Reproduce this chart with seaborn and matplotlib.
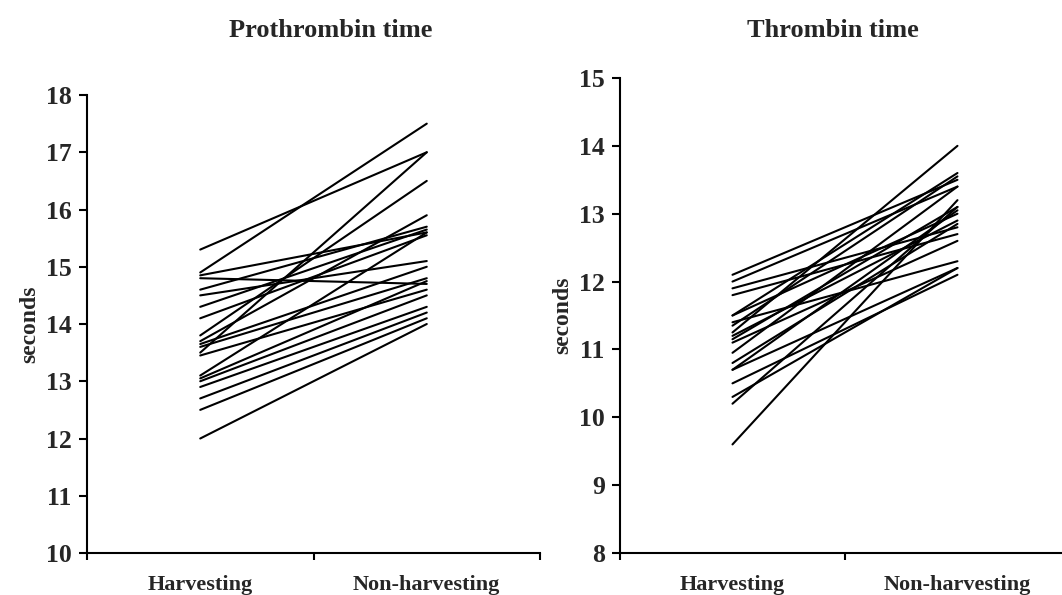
import matplotlib
matplotlib.use("Agg")
import matplotlib.pyplot as plt
import seaborn as sns
import pandas as pd

# Prothrombin time (seconds), paired values per subject
pt_harvest = [15.3, 14.9, 14.85, 14.8, 14.6, 14.5, 14.3, 14.1, 13.8, 13.7, 13.65,
              13.6, 13.5, 13.45, 13.1, 13.05, 13.0, 12.9, 12.7, 12.5, 12.0]
pt_nonharvest = [17.0, 17.5, 15.6, 14.7, 15.7, 15.1, 15.65, 15.55, 16.5, 15.9, 15.0,
                 14.8, 17.0, 14.6, 15.6, 14.75, 14.5, 14.3, 14.2, 14.1, 14.0]

# Thrombin time (seconds), paired values per subject
tt_harvest = [12.1, 12.0, 11.9, 11.8, 11.5, 11.5, 11.4, 11.35, 11.25, 11.2, 11.15,
              11.1, 10.95, 10.8, 10.7, 10.7, 10.5, 10.3, 10.2, 9.6]
tt_nonharvest = [13.5, 13.4, 12.8, 12.7, 13.6, 13.0, 12.3, 13.55, 14.0, 12.9, 13.1,
                 12.6, 13.4, 12.85, 12.2, 13.05, 12.1, 12.2, 13.1, 13.2]

groups = ["Harvesting", "Non-harvesting"]


def long_table(h, n):
    rows = []
    for i, (a, b) in enumerate(zip(h, n)):
        rows.append({"subject": i, "group": groups[0], "seconds": a})
        rows.append({"subject": i, "group": groups[1], "seconds": b})
    return pd.DataFrame(rows)


sns.set_theme(style="ticks")
plt.rcParams["font.family"] = ["Liberation Serif", "DejaVu Serif"]
plt.rcParams["font.weight"] = "bold"

fig = plt.figure(figsize=(10.62, 5.95), dpi=100)
ax1 = fig.add_axes([0.0819, 0.0706, 0.4266, 0.7697])
ax2 = fig.add_axes([0.5838, 0.0706, 0.4237, 0.7983])

panels = [
    (ax1, long_table(pt_harvest, pt_nonharvest), (10, 18), "Prothrombin time", 0.311),
    (ax2, long_table(tt_harvest, tt_nonharvest), (8, 15), "Thrombin time", 0.784),
]

for ax, df, ylim, title, tx in panels:
    sns.lineplot(data=df, x="group", y="seconds", units="subject", estimator=None,
                 color="black", linewidth=1.5, ax=ax, legend=False)
    ax.set_xlim(-0.5, 1.5)
    ax.set_ylim(*ylim)
    ax.set_yticks(range(ylim[0], ylim[1] + 1))
    ax.set_xticks([0, 1])
    ax.set_xticklabels(groups)
    ax.set_xticks([-0.5, 0.5, 1.5], minor=True)
    ax.tick_params(axis="x", which="major", length=0, pad=16, labelsize=16)
    ax.tick_params(axis="x", which="minor", length=5, width=1.5, direction="out", color="black")
    ax.tick_params(axis="y", length=6, width=1.5, direction="out", labelsize=18.5, color="black", pad=5)
    for lab in ax.get_xticklabels() + ax.get_yticklabels():
        lab.set_fontweight("bold")
    ax.set_xlabel("")
    ax.set_ylabel("seconds", fontsize=17, fontweight="bold", labelpad=4)
    for s in ["top", "right"]:
        ax.spines[s].set_visible(False)
    for s in ["left", "bottom"]:
        ax.spines[s].set_linewidth(1.5)
        ax.spines[s].set_color("black")
    fig.text(tx, 0.948, title, ha="center", va="center", fontsize=19, fontweight="bold")

fig.savefig("out.png", dpi=100)
